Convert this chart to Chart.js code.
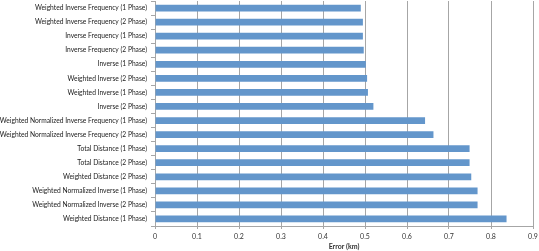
<!DOCTYPE html>
<html><head><meta charset="utf-8">
<script src="https://cdn.jsdelivr.net/npm/chart.js@4"></script>
<style>html,body{margin:0;padding:0;background:#fff}#wrap{width:539px;height:251px}</style>
</head><body><div id="wrap"><canvas id="c" width="539" height="251"></canvas></div>
<script>
const categories = [
  "Weighted Inverse Frequency (1 Phase)",
  "Weighted Inverse Frequency (2 Phase)",
  "Inverse Frequency (1 Phase)",
  "Inverse Frequency (2 Phase)",
  "Inverse (1 Phase)",
  "Weighted Inverse (2 Phase)",
  "Weighted Inverse (1 Phase)",
  "Inverse (2 Phase)",
  "Weighted Normalized Inverse Frequency (1 Phase)",
  "Weighted Normalized Inverse Frequency (2 Phase)",
  "Total Distance (1 Phase)",
  "Total Distance (2 Phase)",
  "Weighted Distance (2 Phase)",
  "Weighted Normalized Inverse (1 Phase)",
  "Weighted Normalized Inverse (2 Phase)",
  "Weighted Distance (1 Phase)"
];
const errorKm = [0.490, 0.495, 0.495, 0.497, 0.502, 0.505, 0.507, 0.520, 0.643, 0.663, 0.749, 0.749, 0.753, 0.768, 0.768, 0.837];
const xTicks = [0, 0.1, 0.2, 0.3, 0.4, 0.5, 0.6, 0.7, 0.8, 0.9];
const axisTitle = "Error (km)";

const FONT = "Lato";
new Chart(document.getElementById('c'), {
  type: 'bar',
  data: { labels: categories, datasets: [{ data: errorKm, backgroundColor: '#6396CB', borderWidth: 0, categoryPercentage: 1, barPercentage: 0.48 }] },
  options: {
    indexAxis: 'y', responsive: false, animation: false,
    layout: { padding: { top: 1, right: 6, left: 0, bottom: 0 } },
    plugins: { legend: { display: false }, tooltip: { enabled: false } },
    scales: {
      x: {
        min: 0, max: 0.9,
        afterBuildTicks: ax => { ax.ticks = xTicks.map(v => ({ value: v })); },
        ticks: { font: { family: FONT, size: 7 }, color: '#333', padding: 4, callback: v => String(v) },
        grid: { color: '#a6a6a6', lineWidth: 1, drawTicks: true, tickLength: 3 },
        border: { color: '#a6a6a6' },
        title: { display: true, text: axisTitle, font: { family: FONT, size: 7, weight: 'bold' }, color: '#333', padding: { top: 2, bottom: 0 } },
        afterFit: ax => { ax.height = 25; ax.paddingLeft = 0; ax.paddingRight = 0; }
      },
      y: {
        afterFit: ax => { ax.width = 155; ax.paddingTop = 0; ax.paddingBottom = 0; },
        ticks: { font: { family: FONT, size: 6.7 }, color: '#222', padding: 4, autoSkip: false },
        grid: { offset: true, drawOnChartArea: false, drawTicks: true, tickLength: 4, color: '#a6a6a6' },
        border: { color: '#a6a6a6' }
      }
    }
  }
});
</script></body></html>
